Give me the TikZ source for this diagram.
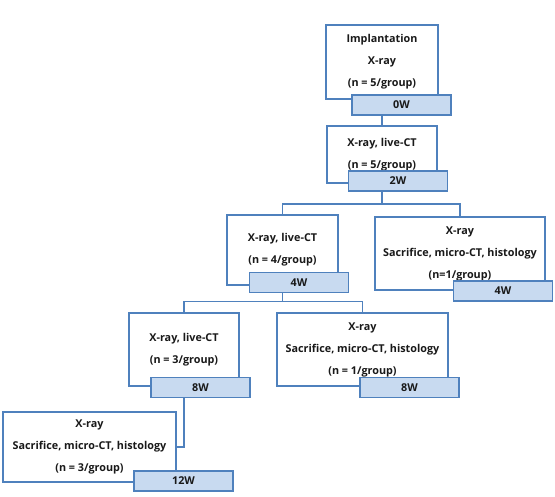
\documentclass[tikz,border=0pt]{standalone}
\usepackage{fontspec}
\setmainfont{Open Sans}
\usetikzlibrary{calc}
\definecolor{frameblue}{RGB}{79,129,189}
\definecolor{tagblue}{RGB}{200,218,240}

\begin{document}
\begin{tikzpicture}[x=0.75pt, y=-0.75pt, line width=1.3pt]
\tikzstyle{every node}=[font=\bfseries\fontsize{8.1}{16.5}\selectfont, text=black!90]
\tikzstyle{stage}=[draw=frameblue, fill=white, align=center, inner sep=0pt]
\tikzstyle{week}=[draw=frameblue, fill=tagblue, inner sep=0pt, minimum width=74.25pt, minimum height=15pt]
\useasboundingbox (0,0) rectangle (555,496);

% time points
\node[stage, minimum width=84pt,     minimum height=55.5pt]  (box1) at (382,62)    {Implantation\\X-ray\\(n = 5/group)};
\node[stage, minimum width=82.5pt,   minimum height=42.75pt] (box2) at (382,154.5) {X-ray, live-CT\\(n = 5/group)};
\node[stage, minimum width=83.25pt,  minimum height=52.5pt]  (box3) at (282.5,250) {X-ray, live-CT\\(n = 4/group)};
\node[stage, minimum width=127.5pt,  minimum height=54.75pt] (box4) at (460,253.5) {X-ray\\Sacrifice, micro-CT, histology\\(n=1/group)};
\node[stage, minimum width=82.5pt,   minimum height=54.75pt] (box5) at (184,349.5) {X-ray, live-CT\\(n = 3/group)};
\node[stage, minimum width=128.25pt, minimum height=54.75pt] (box6) at (362.5,349.5) {X-ray\\Sacrifice, micro-CT, histology\\(n = 1/group)};
\node[stage, minimum width=129.75pt, minimum height=52.5pt]  (box7) at (89.5,447)  {X-ray\\Sacrifice, micro-CT, histology\\(n = 3/group)};

% week tags
\node[week] (w0)  at (401.5,105)   {0W};
\node[week] (w2)  at (398,181)     {2W};
\node[week] (w4a) at (299,282.5)   {4W};
\node[week] (w4b) at (503,291)     {4W};
\node[week] (w8a) at (200.5,387.5) {8W};
\node[week] (w8b) at (409.5,387.5) {8W};
\node[week] (w12) at (183.5,481)   {12W};

\path[draw=frameblue]
 (box1.south |- w0.south) -- (box2.north)
 (box2.south |- w2.south) -- ++(0,12) -| (box3.north)
 (box2.south |- w2.south) -- ++(0,12) -| (box4.north)
 (box3.south |- w4a.south) -- ++(0,8) -| (box5.north)
 (box3.south |- w4a.south) -- ++(0,8) -| (box6.north)
 (box5.south |- w8a.south) |- (box7.east);
\end{tikzpicture}
\end{document}
